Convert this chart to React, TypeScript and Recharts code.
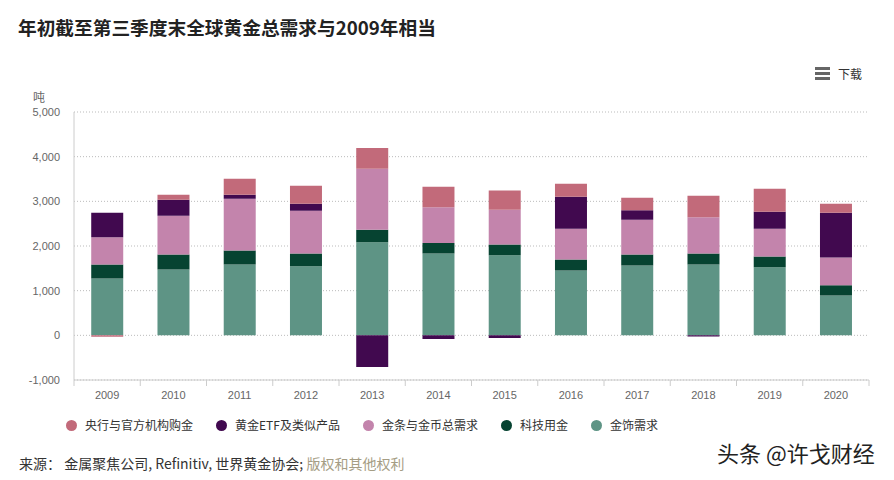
import React from "react";
import { BarChart, Bar, XAxis, YAxis, CartesianGrid } from "recharts";

const years = ["2009", "2010", "2011", "2012", "2013", "2014", "2015", "2016", "2017", "2018", "2019", "2020"];
const jewellery = [1272, 1473, 1585, 1547, 2083, 1830, 1793, 1451, 1562, 1585, 1525, 893];
const technology = [313, 335, 312, 283, 283, 238, 238, 245, 246, 245, 238, 230];
const barsCoins = [610, 871, 1161, 960, 1362, 797, 781, 692, 781, 811, 625, 618];
const etfs = [550, 357, 89, 156, -707, -80, -60, 715, 209, -25, 380, 1005];
const centralBanks = [-34, 111, 357, 402, 468, 461, 432, 290, 282, 484, 513, 200];
const yTicks = [-1000, 0, 1000, 2000, 3000, 4000, 5000];

// stacking order, bottom to top
const series = [
  { key: "jewellery", name: "金饰需求", color: "#5e9485" },
  { key: "technology", name: "科技用金", color: "#064331" },
  { key: "barsCoins", name: "金条与金币总需求", color: "#c384ac" },
  { key: "etfs", name: "黄金ETF及类似产品", color: "#41094f" },
  { key: "centralBanks", name: "央行与官方机构购金", color: "#c26a7a" },
];

const data = years.map((year, i) => ({
  year,
  jewellery: jewellery[i],
  technology: technology[i],
  barsCoins: barsCoins[i],
  etfs: etfs[i],
  centralBanks: centralBanks[i],
}));

const font = "'Liberation Sans', Arial, 'Noto Sans CJK SC', sans-serif";
const cjk = "'Noto Sans CJK SC', 'Liberation Sans', sans-serif";

const PLOT_W = 795;

const XTick = (props: any) => {
  const { x, y, payload, index } = props;
  const half = PLOT_W / years.length / 2;
  return (
    <g>
      <line x1={x - half} x2={x - half} y1={y} y2={y + 6} stroke="#ccc" />
      {index === years.length - 1 && (
        <line x1={x + half} x2={x + half} y1={y} y2={y + 6} stroke="#ccc" />
      )}
      <text x={x} y={y + 19} textAnchor="middle" fill="#666" fontSize={11} fontFamily={font}>
        {payload.value}
      </text>
    </g>
  );
};

const App = () => {
  return (
    <div style={{ position: "relative", width: 894, height: 480, margin: -8, background: "#fff", fontFamily: font }}>
      <div
        style={{
          position: "absolute",
          left: 18,
          top: 13,
          fontSize: 18.7,
          fontWeight: 700,
          color: "#222",
          fontFamily: cjk,
          lineHeight: "28px",
        }}
      >
        年初截至第三季度末全球黄金总需求与2009年相当
      </div>

      <div style={{ position: "absolute", left: 815, top: 67 }}>
        {[0, 5, 10].map((t) => (
          <div key={t} style={{ position: "absolute", left: 0, top: t, width: 15, height: 3, background: "#666" }} />
        ))}
      </div>
      <div style={{ position: "absolute", left: 838, top: 65, fontSize: 12, color: "#333", fontFamily: cjk, lineHeight: "18px" }}>
        下载
      </div>

      <div style={{ position: "absolute", left: 33, top: 88, fontSize: 12, color: "#666", fontFamily: cjk, lineHeight: "18px" }}>
        吨
      </div>

      <div style={{ position: "absolute", left: 0, top: 0 }}>
        <BarChart
          width={894}
          height={480}
          data={data}
          stackOffset="sign"
          barCategoryGap="26%"
          margin={{ top: 112, right: 25, bottom: 70, left: 14 }}
        >
          <CartesianGrid yAxisId="l" vertical={false} stroke="#bbb" strokeDasharray="1 2" />
          <XAxis
            dataKey="year"
            height={30}
            tickSize={0}
            tickMargin={0}
            axisLine={{ stroke: "#ccc" }}
            tick={<XTick />}
            interval={0}
          />
          <YAxis
            yAxisId="l"
            width={60}
            domain={[-1000, 5000]}
            ticks={yTicks}
            tickSize={0}
            tickMargin={14}
            tickLine={false}
            axisLine={{ stroke: "#ccc" }}
            tick={{ fill: "#666", fontSize: 11, fontFamily: font }}
            tickFormatter={(v: number) => v.toLocaleString("en-US")}
          />
          <YAxis
            yAxisId="r"
            orientation="right"
            width={0}
            domain={[-1000, 5000]}
            tick={false}
            tickLine={false}
            axisLine={{ stroke: "#ccc" }}
          />
          {series.map((s) => (
            <Bar
              key={s.key}
              dataKey={s.key}
              name={s.name}
              stackId="a"
              yAxisId="l"
              fill={s.color}
              isAnimationActive={false}
            />
          ))}
        </BarChart>
      </div>

      <div
        style={{
          position: "absolute",
          left: 66,
          top: 416,
          display: "flex",
          alignItems: "center",
          gap: 23,
          fontSize: 12,
          color: "#333",
          fontFamily: cjk,
          lineHeight: "18px",
        }}
      >
        {[...series].reverse().map((s) => (
          <div key={s.key} style={{ display: "flex", alignItems: "center" }}>
            <span
              style={{ display: "inline-block", width: 11, height: 11, borderRadius: "50%", background: s.color, marginRight: 8 }}
            />
            <span>{s.name}</span>
          </div>
        ))}
      </div>

      <div style={{ position: "absolute", left: 19, top: 452, fontSize: 14, color: "#333", fontFamily: cjk, lineHeight: "22px" }}>
        来源： 金属聚焦公司, Refinitiv, 世界黄金协会; <span style={{ color: "#a59d84" }}>版权和其他权利</span>
      </div>

      <div style={{ position: "absolute", left: 717, top: 437, fontSize: 22, color: "#222", fontFamily: cjk, lineHeight: "30px" }}>
        头条 @许戈财经
      </div>
    </div>
  );
};

export default App;
